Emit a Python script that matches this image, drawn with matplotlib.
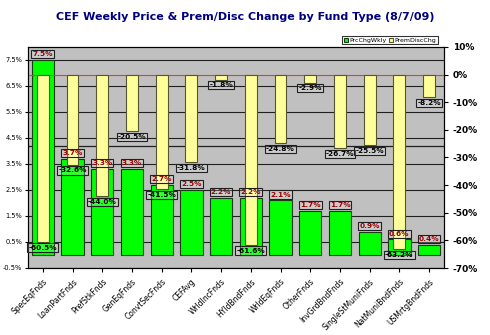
import numpy as np
import matplotlib
matplotlib.use("Agg")
from matplotlib import pyplot as plt
from matplotlib.ticker import FuncFormatter

# data
funds = ["SpecEqFnds", "LoanPartFnds", "PrefStkFnds", "GenEqFnds", "ConvtSecFnds",
         "CEFAvg", "WrldIncFnds", "HYldBndFnds", "WrldEqFnds", "OtherFnds",
         "InvGrdBndFnds", "SingleStMuniFnds", "NatMuniBndFnds", "USMrtgBndFnds"]
prc_chg = [7.5, 3.7, 3.3, 3.3, 2.7, 2.5, 2.2, 2.2, 2.1, 1.7, 1.7, 0.9, 0.6, 0.4]
prem_disc_chg = [-60.5, -32.6, -44.0, -20.5, -41.5, -31.8, -1.8, -61.6, -24.8,
                 -2.9, -26.7, -25.5, -63.2, -8.2]
extra_line = 4.2

x = np.arange(len(funds))

fig = plt.figure(figsize=(4.9, 3.35), dpi=100)
ax = fig.add_axes([0.057, 0.2, 0.849, 0.66])
ax.set_facecolor("#c0c0c0")

ax.bar(x, prc_chg, width=0.75, color="#00ff00", edgecolor="#1a3a1a",
       linewidth=0.8, zorder=2, label="PrcChgWkly")
ax.set_ylim(-0.5, 8.0)
ax.set_yticks(np.arange(-0.5, 8.0, 1.0))
ax.yaxis.set_major_formatter(FuncFormatter(lambda v, p: "%.1f%%" % v))
ax.grid(axis="y", color="#202020", linewidth=0.8, zorder=1)
ax.axhline(extra_line, color="#202020", linewidth=0.9, zorder=1)
ax.set_xlim(-0.5, len(funds) - 0.5)
ax.set_xticks(x)
ax.set_xticklabels(funds, rotation=45, ha="right", rotation_mode="anchor",
                   fontsize=5.5)
ax.tick_params(axis="y", labelsize=4.8, length=2.5, pad=1.5)
ax.tick_params(axis="x", length=3)

ax2 = ax.twinx()
ax2.bar(x, prem_disc_chg, width=0.4, color="#ffff99", edgecolor="#555533",
        linewidth=0.8, zorder=2, label="PremDiscChg")
ax2.axhline(0, color="#ff3030", linewidth=0.8, zorder=1)
ax2.set_ylim(-70, 10)
ax2.set_yticks(np.arange(-70, 11, 10))
ax2.yaxis.set_major_formatter(FuncFormatter(lambda v, p: "%d%%" % v))
ax2.tick_params(axis="y", labelsize=6.5, length=3)
for t in ax2.get_yticklabels():
    t.set_fontweight("bold")

box = dict(boxstyle="square,pad=0.15", facecolor=(1, 1, 1, 0.2),
           edgecolor="#202020", linewidth=0.8)
# both label sets go on ax2 so they sit above all bars
for i, v in enumerate(prc_chg):
    ax2.annotate("%.1f%%" % v, (i, v), xycoords=ax.transData,
                 xytext=(0, 2), textcoords="offset points",
                 ha="center", va="bottom", fontsize=5.3, fontweight="bold",
                 color="#990000", bbox=box, zorder=5)
for i, v in enumerate(prem_disc_chg):
    ax2.annotate("%.1f%%" % v, (i, v), xytext=(0, -2), textcoords="offset points",
                 ha="center", va="top", fontsize=5.3, fontweight="bold",
                 color="#000000", bbox=box, zorder=5)

h1, l1 = ax.get_legend_handles_labels()
h2, l2 = ax2.get_legend_handles_labels()
leg = fig.legend(h1 + h2, l1 + l2, loc="upper right", bbox_to_anchor=(0.9, 0.902),
                 ncol=2, fontsize=4.5, frameon=True, fancybox=False,
                 handlelength=0.7, handleheight=0.7, handletextpad=0.2,
                 columnspacing=0.4, borderpad=0.25)
leg.get_frame().set_edgecolor("black")
leg.get_frame().set_linewidth(0.8)

fig.text(0.5, 0.95, "CEF Weekly Price & Prem/Disc Change by Fund Type (8/7/09)",
         ha="center", va="center", fontsize=8, fontweight="heavy",
         color="#000080")

fig.savefig("out.png", dpi=100)
